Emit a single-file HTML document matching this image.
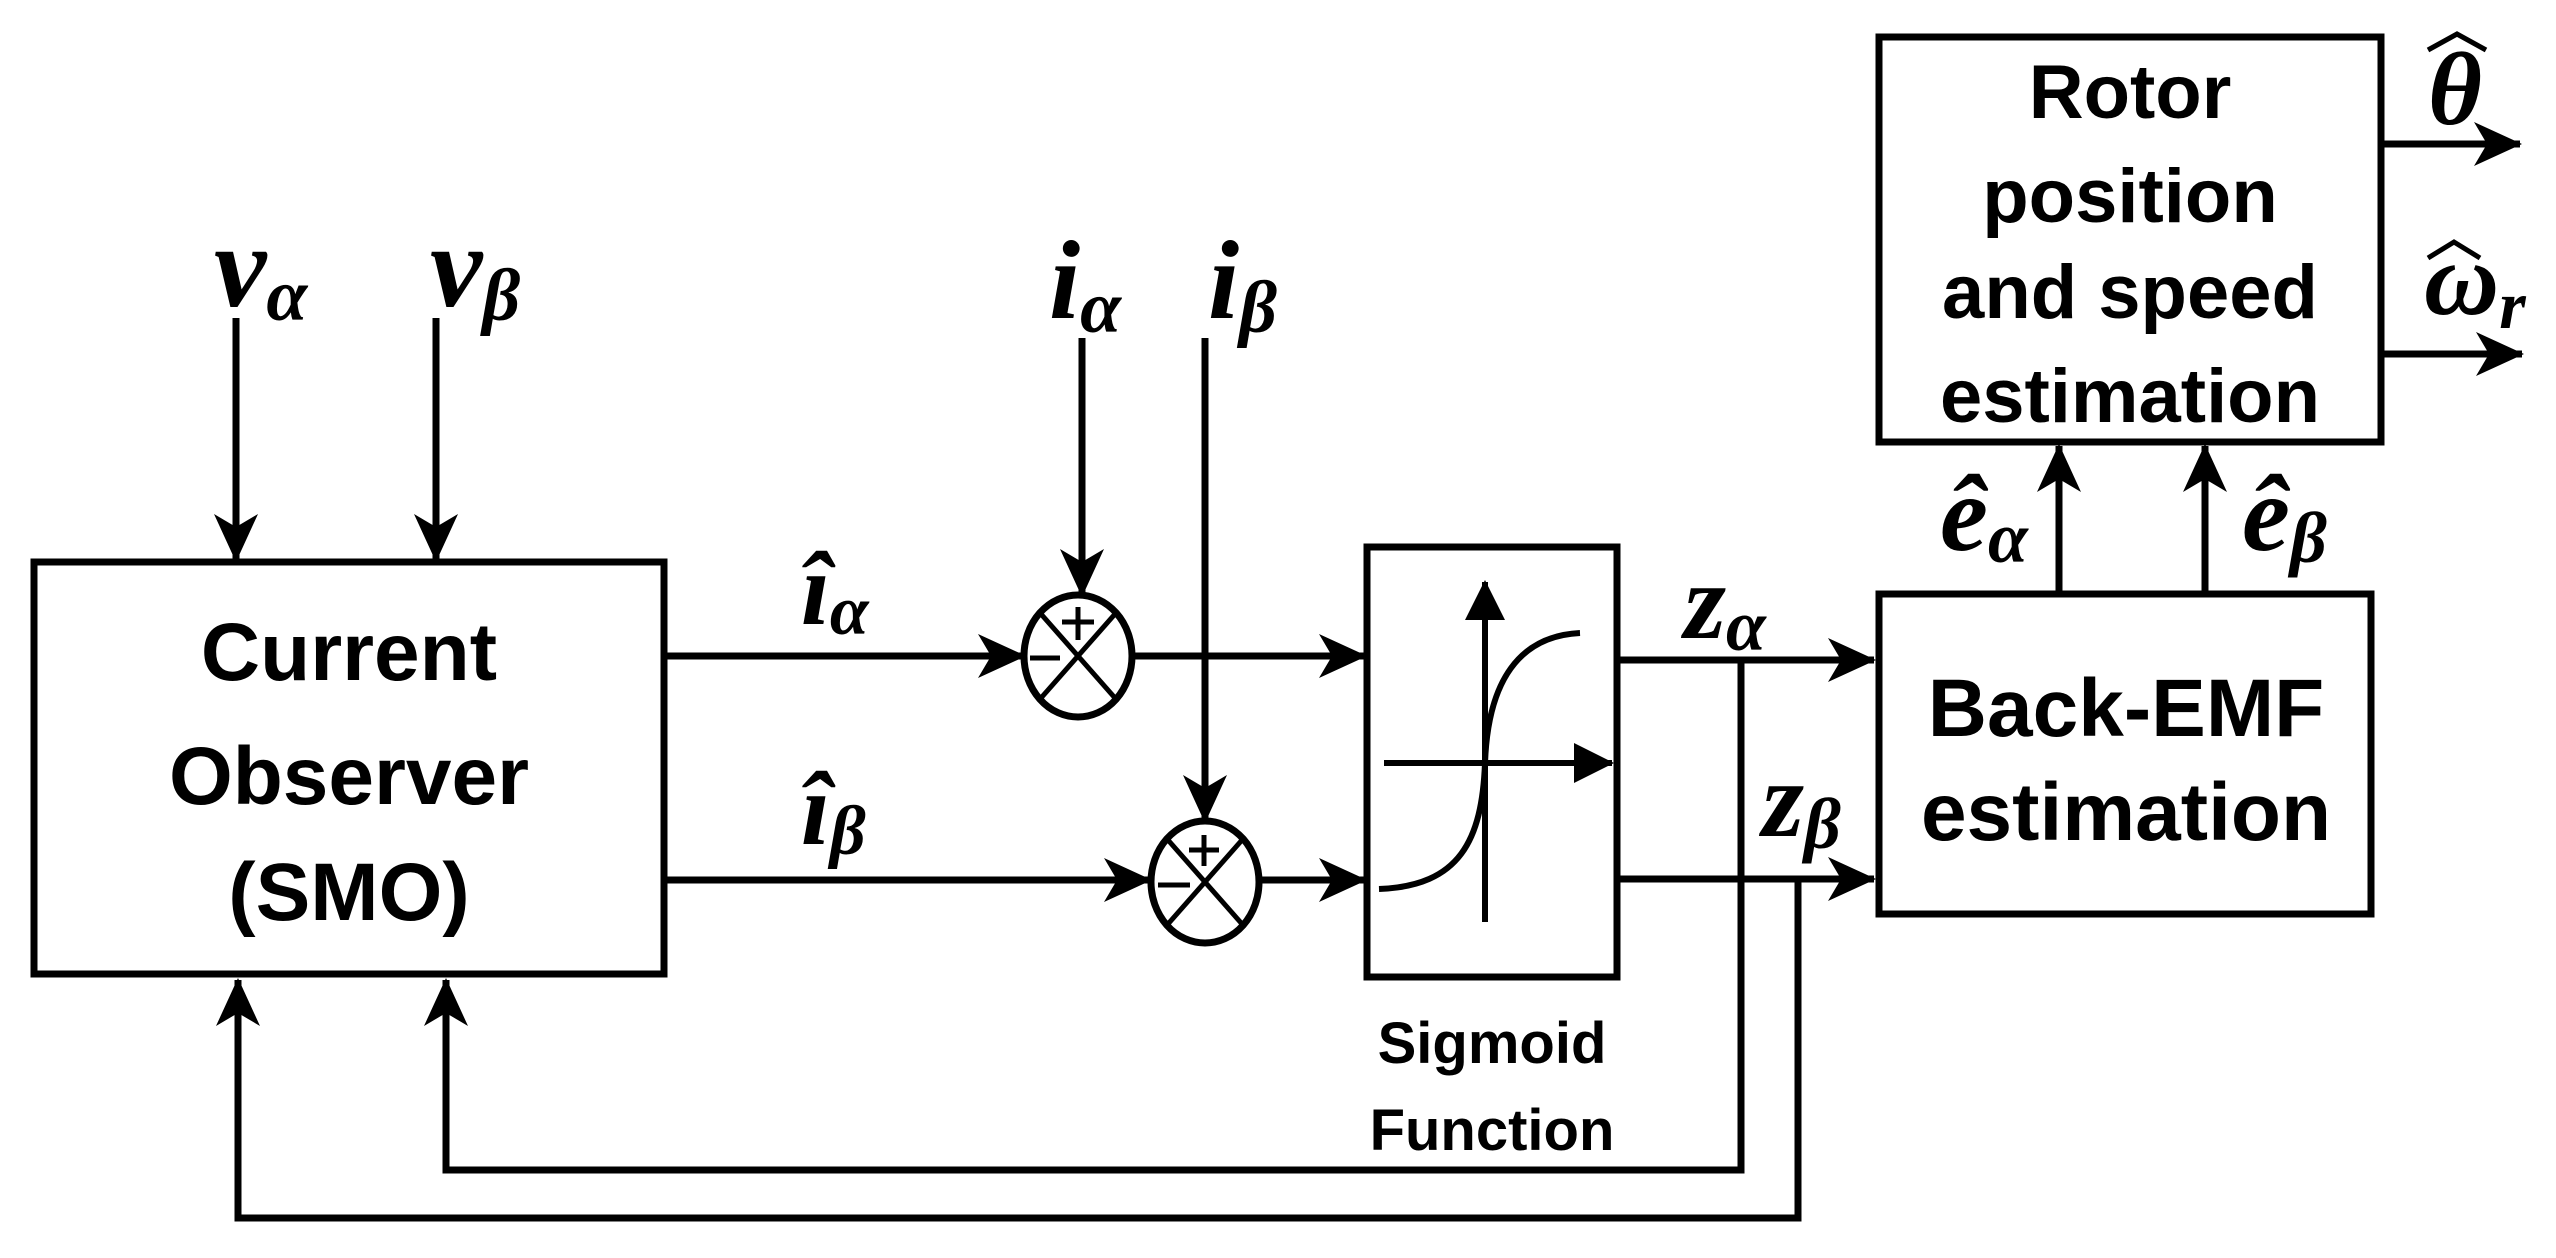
<!DOCTYPE html>
<html><head><meta charset="utf-8"><style>
html,body{margin:0;padding:0;background:#fff}
svg{display:block}
.t{font-family:"Liberation Sans",sans-serif;font-weight:bold;fill:#000;text-anchor:middle}
.m{font-family:"Liberation Serif",serif;font-weight:bold;font-style:italic;fill:#000}
</style></head><body>
<svg width="2556" height="1258" viewBox="0 0 2556 1258" xmlns="http://www.w3.org/2000/svg">
<defs>
<marker id="a" viewBox="0 0 48 44" refX="46" refY="22" markerWidth="48" markerHeight="44" markerUnits="userSpaceOnUse" orient="auto">
<path d="M0,0 L48,22 L0,44 L13,22 Z" fill="#000"/>
</marker>
<marker id="b" viewBox="0 0 40 40" refX="38" refY="20" markerWidth="40" markerHeight="40" markerUnits="userSpaceOnUse" orient="auto">
<path d="M0,0 L40,20 L0,40 Z" fill="#000"/>
</marker>
</defs>
<g fill="none" stroke="#000" stroke-width="7">
<rect x="34" y="562" width="630" height="412"/>
<rect x="1367" y="547" width="250" height="430"/>
<rect x="1879" y="594" width="492" height="320"/>
<rect x="1879" y="37" width="502" height="405"/>
<ellipse cx="1078" cy="656" rx="54" ry="61"/>
<ellipse cx="1205" cy="882" rx="54" ry="61"/>
</g>
<g stroke="#000" stroke-width="5">
<line x1="1041" y1="614" x2="1115" y2="698"/><line x1="1115" y1="614" x2="1041" y2="698"/>
<line x1="1168" y1="840" x2="1242" y2="924"/><line x1="1242" y1="840" x2="1168" y2="924"/>
<line x1="1062" y1="622" x2="1094" y2="622"/><line x1="1078" y1="607" x2="1078" y2="640"/>
<line x1="1030" y1="658" x2="1060" y2="658"/>
<line x1="1189" y1="850" x2="1219" y2="850"/><line x1="1204" y1="835" x2="1204" y2="866"/>
<line x1="1158" y1="885" x2="1190" y2="885"/>
</g>
<g fill="none" stroke="#000" stroke-width="7">
<line x1="236" y1="318" x2="236" y2="560" marker-end="url(#a)"/>
<line x1="436" y1="318" x2="436" y2="560" marker-end="url(#a)"/>
<line x1="664" y1="656" x2="1024" y2="656" marker-end="url(#a)"/>
<line x1="664" y1="880" x2="1150" y2="880" marker-end="url(#a)"/>
<line x1="1082" y1="338" x2="1082" y2="595" marker-end="url(#a)"/>
<line x1="1205" y1="338" x2="1205" y2="821" marker-end="url(#a)"/>
<line x1="1132" y1="656" x2="1365" y2="656" marker-end="url(#a)"/>
<line x1="1259" y1="880" x2="1365" y2="880" marker-end="url(#a)"/>
<line x1="1617" y1="660" x2="1874" y2="660" marker-end="url(#a)"/>
<line x1="1617" y1="879" x2="1874" y2="879" marker-end="url(#a)"/>
<polyline points="1741,660 1741,1170 446,1170 446,980" marker-end="url(#a)"/>
<polyline points="1798,879 1798,1218 238,1218 238,980" marker-end="url(#a)"/>
<line x1="2059" y1="594" x2="2059" y2="446" marker-end="url(#a)"/>
<line x1="2205" y1="594" x2="2205" y2="446" marker-end="url(#a)"/>
<line x1="2381" y1="144" x2="2520" y2="144" marker-end="url(#a)"/>
<line x1="2381" y1="354" x2="2522" y2="354" marker-end="url(#a)"/>
</g>
<g fill="none" stroke="#000" stroke-width="6">
<line x1="1485" y1="922" x2="1485" y2="582" marker-end="url(#b)"/>
<line x1="1384" y1="763" x2="1612" y2="763" marker-end="url(#b)"/>
<path d="M1379,889 C1460,886 1482,840 1485,763 C1488,680 1520,636 1580,633"/>
</g>
<text class="t" x="349" y="680" font-size="82">Current</text>
<text class="t" x="349" y="804" font-size="82">Observer</text>
<text class="t" x="349" y="920" font-size="82">(SMO)</text>
<text class="t" x="2126" y="736" font-size="82">Back-EMF</text>
<text class="t" x="2126" y="840" font-size="82">estimation</text>
<text class="t" x="2130" y="118" font-size="76">Rotor</text>
<text class="t" x="2130" y="222" font-size="76">position</text>
<text class="t" x="2130" y="318" font-size="76">and speed</text>
<text class="t" x="2130" y="422" font-size="76">estimation</text>
<text class="t" x="1492" y="1063" font-size="58">Sigmoid</text>
<text class="t" x="1492" y="1150" font-size="58">Function</text>
<text class="m" x="214" y="306" font-size="118">v<tspan font-size="74" dy="14">α</tspan></text>
<text class="m" x="430" y="306" font-size="118">v<tspan font-size="74" dy="14">β</tspan></text>
<text class="m" x="1049" y="318" font-size="112">i<tspan font-size="74" dy="14">α</tspan></text>
<text class="m" x="1208" y="318" font-size="112">i<tspan font-size="74" dy="14">β</tspan></text>
<text class="m" x="801" y="624" font-size="104">î<tspan font-size="70" dy="10">α</tspan></text>
<text class="m" x="801" y="844" font-size="104">î<tspan font-size="70" dy="10">β</tspan></text>
<text class="m" x="1684" y="638" font-size="108">z<tspan font-size="72" dy="12">α</tspan></text>
<text class="m" x="1762" y="836" font-size="108">z<tspan font-size="72" dy="12">β</tspan></text>
<text class="m" x="1940" y="550" font-size="108">ê<tspan font-size="72" dy="12">α</tspan></text>
<text class="m" x="2242" y="550" font-size="108">ê<tspan font-size="72" dy="12">β</tspan></text>
<text class="m" x="2428" y="124" font-size="104">θ</text>
<path d="M2428,50 L2457,34 L2486,50" fill="none" stroke="#000" stroke-width="5"/>
<text class="m" x="2424" y="314" font-size="104">ω<tspan font-size="68" dy="14">r</tspan></text>
<path d="M2428,258 L2454,242 L2480,258" fill="none" stroke="#000" stroke-width="5"/>
</svg>
</body></html>
